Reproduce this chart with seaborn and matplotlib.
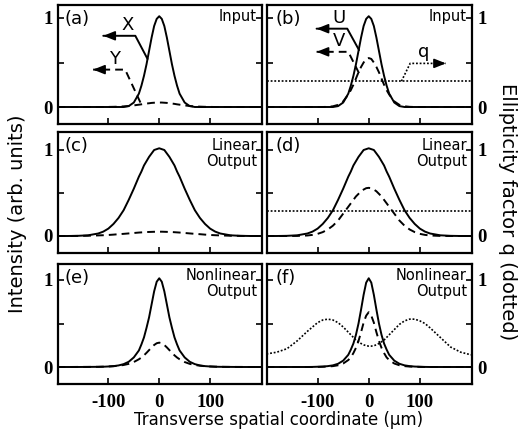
import matplotlib
matplotlib.use("Agg")
import matplotlib.pyplot as plt
import seaborn as sns

# === Datos ===
X_UM = [-200, -180, -160, -140, -120, -110, -100, -90, -80, -70, -60, -50, -40, -35,
        -30, -25, -20, -15, -10, -5, 0, 5, 10, 15, 20, 25, 30, 35, 40, 50, 60, 70,
        80, 90, 100, 110, 120, 140, 160, 180, 200]

# (a) / (b) entrada
IN_X = [0, 0, 0, 0, 0, 0, 0, 0, 0, 0, 0.01, 0.05, 0.15, 0.24, 0.35, 0.48, 0.63, 0.78,
        0.91, 0.99, 1.02, 0.99, 0.91, 0.78, 0.63, 0.48, 0.35, 0.24, 0.15, 0.05, 0.01,
        0, 0, 0, 0, 0, 0, 0, 0, 0, 0]
IN_Y = [0, 0, 0, 0, 0, 0, 0.001, 0.002, 0.004, 0.007, 0.011, 0.018, 0.026, 0.030,
        0.035, 0.039, 0.042, 0.046, 0.048, 0.05, 0.05, 0.05, 0.048, 0.046, 0.042, 0.039,
        0.035, 0.030, 0.026, 0.018, 0.011, 0.007, 0.004, 0.002, 0.001, 0, 0, 0, 0, 0, 0]
IN_U = [0, 0, 0, 0, 0, 0, 0, 0, 0, 0, 0.01, 0.05, 0.15, 0.24, 0.35, 0.48, 0.63, 0.78,
        0.91, 0.99, 1.02, 0.99, 0.91, 0.78, 0.63, 0.48, 0.35, 0.24, 0.15, 0.05, 0.01,
        0, 0, 0, 0, 0, 0, 0, 0, 0, 0]
IN_V = [0, 0, 0, 0, 0, 0, 0, 0, 0.002, 0.008, 0.024, 0.063, 0.14, 0.19, 0.25, 0.32,
        0.39, 0.45, 0.50, 0.54, 0.55, 0.54, 0.50, 0.45, 0.39, 0.32, 0.25, 0.19, 0.14,
        0.063, 0.024, 0.008, 0.002, 0, 0, 0, 0, 0, 0, 0, 0]
Q_IN = 0.29

# (c) / (d) salida lineal
LIN_X = [0, 0, 0.002, 0.008, 0.029, 0.051, 0.086, 0.14, 0.21, 0.30, 0.42, 0.55, 0.69,
         0.75, 0.82, 0.87, 0.92, 0.96, 1.00, 1.01, 1.02, 1.01, 1.00, 0.96, 0.92, 0.87,
         0.82, 0.75, 0.69, 0.55, 0.42, 0.30, 0.21, 0.14, 0.086, 0.051, 0.029, 0.008,
         0.002, 0, 0]
LIN_Y = [0, 0, 0.001, 0.003, 0.007, 0.009, 0.012, 0.016, 0.021, 0.025, 0.030, 0.035,
         0.040, 0.042, 0.044, 0.046, 0.047, 0.048, 0.049, 0.05, 0.05, 0.05, 0.049, 0.048,
         0.047, 0.046, 0.044, 0.042, 0.040, 0.035, 0.030, 0.025, 0.021, 0.016, 0.012,
         0.009, 0.007, 0.003, 0.001, 0, 0]
LIN_U = [0, 0, 0.002, 0.008, 0.029, 0.051, 0.086, 0.14, 0.21, 0.30, 0.42, 0.55, 0.69,
         0.75, 0.82, 0.87, 0.92, 0.96, 1.00, 1.01, 1.02, 1.01, 1.00, 0.96, 0.92, 0.87,
         0.82, 0.75, 0.69, 0.55, 0.42, 0.30, 0.21, 0.14, 0.086, 0.051, 0.029, 0.008,
         0.002, 0, 0]
LIN_V = [0, 0, 0, 0.001, 0.006, 0.013, 0.025, 0.045, 0.076, 0.12, 0.18, 0.26, 0.34,
         0.38, 0.42, 0.46, 0.49, 0.52, 0.54, 0.556, 0.56, 0.556, 0.54, 0.52, 0.49, 0.46,
         0.42, 0.38, 0.34, 0.26, 0.18, 0.12, 0.076, 0.045, 0.025, 0.013, 0.006, 0.001,
         0, 0, 0]

# (e) / (f) salida no lineal
NL_X = [0, 0, 0, 0.001, 0.002, 0.003, 0.006, 0.010, 0.018, 0.033, 0.06, 0.11, 0.19,
        0.26, 0.34, 0.45, 0.57, 0.72, 0.87, 0.98, 1.02, 0.98, 0.87, 0.72, 0.57, 0.45,
        0.34, 0.26, 0.19, 0.11, 0.06, 0.033, 0.018, 0.010, 0.006, 0.003, 0.002, 0.001,
        0, 0, 0]
NL_Y = [0, 0, 0.001, 0.001, 0.002, 0.004, 0.006, 0.009, 0.015, 0.023, 0.036, 0.057,
        0.089, 0.109, 0.134, 0.163, 0.194, 0.225, 0.253, 0.273, 0.28, 0.273, 0.253,
        0.225, 0.194, 0.163, 0.134, 0.109, 0.089, 0.057, 0.036, 0.023, 0.015, 0.009,
        0.006, 0.004, 0.002, 0.001, 0.001, 0, 0]
NL_U = [0, 0, 0, 0, 0, 0.001, 0.003, 0.005, 0.01, 0.019, 0.037, 0.073, 0.14, 0.20,
        0.27, 0.37, 0.50, 0.66, 0.83, 0.97, 1.02, 0.97, 0.83, 0.66, 0.50, 0.37, 0.27,
        0.20, 0.14, 0.073, 0.037, 0.019, 0.01, 0.005, 0.003, 0.001, 0, 0, 0, 0, 0]
NL_V = [0, 0, 0, 0, 0, 0, 0.001, 0.003, 0.005, 0.01, 0.02, 0.04, 0.08, 0.11, 0.16,
        0.22, 0.30, 0.40, 0.51, 0.59, 0.63, 0.59, 0.51, 0.40, 0.30, 0.22, 0.16, 0.11,
        0.08, 0.04, 0.02, 0.01, 0.005, 0.003, 0.001, 0, 0, 0, 0, 0, 0]
NL_Q = [0.15, 0.17, 0.21, 0.30, 0.41, 0.46, 0.51, 0.54, 0.55, 0.54, 0.51, 0.46, 0.40,
        0.37, 0.34, 0.31, 0.29, 0.27, 0.255, 0.245, 0.24, 0.24, 0.245, 0.255, 0.27,
        0.29, 0.31, 0.34, 0.37, 0.43, 0.49, 0.53, 0.55, 0.55, 0.53, 0.50, 0.45, 0.34,
        0.23, 0.17, 0.14]

PANEL_TAGS = ["(a)", "(b)", "(c)", "(d)", "(e)", "(f)"]
STAGE_TEXT = ["Input", "Input", "Linear\nOutput", "Linear\nOutput",
              "Nonlinear\nOutput", "Nonlinear\nOutput"]
X_TICKS = [-100, 0, 100]
X_TICK_LABELS = ["-100", "0", "100"]
Y_TICKS = [0, 0.5, 1]
Y_TICK_LABELS = ["0", "", "1"]

# === Estilo / layout (pixeles de la figura original) ===
sns.set_theme(style="ticks", rc={"text.color": "black", "axes.labelcolor": "black",
                                 "xtick.color": "black", "ytick.color": "black",
                                 "axes.edgecolor": "black"})
plt.rcParams["font.family"] = ["DejaVu Sans"]

W, H = 519, 443
COLS = [(58, 262), (267, 472)]
ROWS = [(5, 124, 107, 18), (132, 253, 236, 150), (264, 384, 367, 280)]  # top, bottom, y=0, y=1
SOLID = dict(color="black", lw=1.4, linestyle="-")
DASH = dict(color="black", lw=1.4, linestyle=(0, (4, 2.6)))
DOT = dict(color="black", lw=1.2, linestyle=(0, (1.1, 1.1)))
TICKFONT = dict(fontfamily="Liberation Serif", fontweight="bold", fontsize=13.5,
                color="black")

fig = plt.figure(figsize=(W / 100, H / 100), dpi=100)


def flecha(ax, pts, estilo, sentido):
    xs = [p[0] for p in pts]
    ys = [p[1] for p in pts]
    ax.plot(xs, ys, **estilo)
    tip = pts[-1]
    ax.annotate("", xy=tip, xytext=(tip[0] + sentido * 14, tip[1]),
                arrowprops=dict(arrowstyle="-|>,head_length=0.5,head_width=0.2",
                                color="black", lw=1.2, shrinkA=0, shrinkB=0,
                                mutation_scale=14))


axes = []
for r, (top, bot, y0, y1) in enumerate(ROWS):
    unit = y0 - y1
    for c, (left, right) in enumerate(COLS):
        ax = fig.add_axes([left / W, (H - bot) / H, (right - left) / W, (bot - top) / H])
        ax.set_xlim(-199, 202)
        ax.set_ylim(-(bot - y0) / unit, 1 + (y1 - top) / unit)
        for s in ax.spines.values():
            s.set_linewidth(1.6)
            s.set_color("black")
        ax.set_xticks(X_TICKS, labels=X_TICK_LABELS, **TICKFONT)
        ax.set_yticks(Y_TICKS, labels=Y_TICK_LABELS, **TICKFONT)
        ax.tick_params(direction="in", length=4, width=1.2, color="black",
                       left=True, right=True, top=False, bottom=True,
                       labelleft=(c == 0), labelright=(c == 1),
                       labelbottom=(r == 2), pad=4)
        ax.tick_params(axis="x", pad=7)
        i = r * 2 + c
        ax.text(0.03 if c == 0 else 0.04, 0.955, PANEL_TAGS[i], transform=ax.transAxes,
                ha="left", va="top", fontsize=13, color="black")
        ax.text(0.975, 0.97 if r != 1 else 0.95, STAGE_TEXT[i], transform=ax.transAxes,
                ha="right", va="top", fontsize=10.5, linespacing=1.1,
                multialignment="right", color="black")
        axes.append(ax)

ax_a, ax_b, ax_c, ax_d, ax_e, ax_f = axes

# (a)
sns.lineplot(x=X_UM, y=IN_X, ax=ax_a, **SOLID)
sns.lineplot(x=X_UM, y=IN_Y, ax=ax_a, **DASH)
flecha(ax_a, [(-23, 0.54), (-47, 0.80), (-110, 0.80)], SOLID, 1)
flecha(ax_a, [(-37, 0.05), (-67, 0.42), (-130, 0.42)], DASH, 1)
ax_a.text(-63, 0.92, "X", ha="center", va="center", fontsize=13)
ax_a.text(-87, 0.54, "Y", ha="center", va="center", fontsize=13)

# (b)
ax_b.axhline(Q_IN, **DOT)
sns.lineplot(x=X_UM, y=IN_U, ax=ax_b, **SOLID)
sns.lineplot(x=X_UM, y=IN_V, ax=ax_b, **DASH)
flecha(ax_b, [(-19, 0.64), (-42, 0.88), (-102, 0.88)], SOLID, 1)
flecha(ax_b, [(-19, 0.38), (-40, 0.62), (-102, 0.62)], DASH, 1)
flecha(ax_b, [(64, Q_IN), (81, 0.49), (151, 0.49)], DOT, -1)
ax_b.text(-58, 1.0, "U", ha="center", va="center", fontsize=13)
ax_b.text(-59, 0.74, "V", ha="center", va="center", fontsize=13)
ax_b.text(108, 0.62, "q", ha="center", va="center", fontsize=13)

# (c)
sns.lineplot(x=X_UM, y=LIN_X, ax=ax_c, **SOLID)
sns.lineplot(x=X_UM, y=LIN_Y, ax=ax_c, **DASH)

# (d)
ax_d.axhline(Q_IN, **DOT)
sns.lineplot(x=X_UM, y=LIN_U, ax=ax_d, **SOLID)
sns.lineplot(x=X_UM, y=LIN_V, ax=ax_d, **DASH)

# (e)
sns.lineplot(x=X_UM, y=NL_X, ax=ax_e, **SOLID)
sns.lineplot(x=X_UM, y=NL_Y, ax=ax_e, **DASH)

# (f)
sns.lineplot(x=X_UM, y=NL_Q, ax=ax_f, **DOT)
sns.lineplot(x=X_UM, y=NL_U, ax=ax_f, **SOLID)
sns.lineplot(x=X_UM, y=NL_V, ax=ax_f, **DASH)

for ax in axes:
    ax.set_xlabel("")
    ax.set_ylabel("")

fig.text(279 / W, 1 - 420 / H, "Transverse spatial coordinate (\u03bcm)",
         ha="center", va="center", fontsize=12)
fig.text(18 / W, 1 - 214 / H, "Intensity (arb. units)", rotation=90,
         ha="center", va="center", fontsize=14)
fig.text(507 / W, 1 - 212 / H, "Ellipticity factor q (dotted)", rotation=-90,
         ha="center", va="center", fontsize=14)

fig.savefig("out.png", dpi=100)
plt.close(fig)
